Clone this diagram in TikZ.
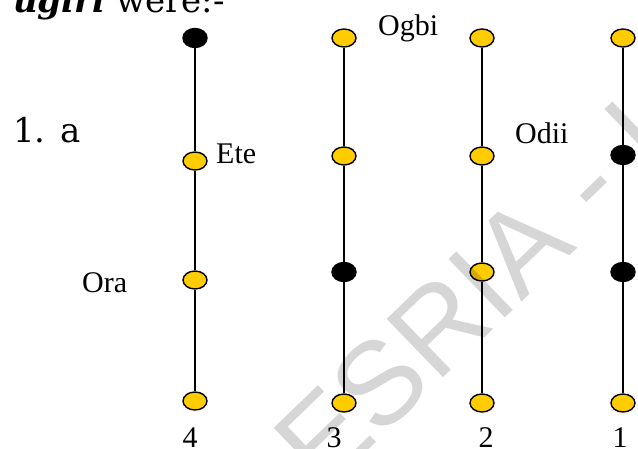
\documentclass[tikz,border=0pt]{standalone}
\usepackage{fontspec}
\setmainfont{Liberation Serif}
\newfontfamily\dvs{DejaVu Serif}
\newfontfamily\wmsans{Liberation Sans}
\usetikzlibrary{shapes.geometric}
\definecolor{dotyellow}{RGB}{255,204,0}
\tikzset{
  ydot/.style={ellipse, draw=black, line width=1.4pt, fill=dotyellow, minimum width=24pt, minimum height=18pt, inner sep=0pt},
  bdot/.style={ellipse, draw=black, line width=1.4pt, fill=black, minimum width=24pt, minimum height=19pt, inner sep=0pt},
  stem/.style={line width=1.3pt, draw=black},
  lbl/.style={font=\fontsize{30}{32}\selectfont, anchor=base west, inner sep=0pt},
  num/.style={font=\fontsize{30}{32}\selectfont, anchor=base, inner sep=0pt},
  head/.style={font=\dvs\fontsize{34}{36}\selectfont, anchor=base west, inner sep=0pt},
  wmark/.style={font=\wmsans\fontsize{118}{120}\selectfont, text=black, text opacity=0.16, rotate=44, anchor=base west, inner sep=0pt}
}
\begin{document}
\begin{tikzpicture}[x=1pt,y=-1pt]
\useasboundingbox (0,0) rectangle (638,448);
% heading
\node[head] (hd) at (13,12) {\textbf{\textit{ugiri}} were:-};
\node[head] (item) at (13,142) {1. a};
% column 4
\node[bdot] (d4a) at (195,38) {};
\node[ydot] (d4b) at (195,161) {};
\node[ydot] (d4c) at (195,280) {};
\node[ydot] (d4d) at (195,401) {};
% column 3
\node[ydot] (d3a) at (344,38) {};
\node[ydot] (d3b) at (344,156) {};
\node[bdot] (d3c) at (344,272) {};
\node[ydot] (d3d) at (344,403) {};
% column 2
\node[ydot] (d2a) at (482,38) {};
\node[ydot] (d2b) at (482,156) {};
\node[ydot] (d2c) at (482,272) {};
\node[ydot] (d2d) at (482,403) {};
% column 1
\node[ydot] (d1a) at (623,38) {};
\node[bdot] (d1b) at (623,155) {};
\node[bdot] (d1c) at (623,272) {};
\node[ydot] (d1d) at (623,403) {};
% stems
\draw[stem] (d4a) -- (d4b) -- (d4c) -- (d4d);
\draw[stem] (d3a) -- (d3b) -- (d3c) -- (d3d);
\draw[stem] (d2a) -- (d2b) -- (d2c) -- (d2d);
\draw[stem] (d1a) -- (d1b) -- (d1c) -- (d1d);
% labels
\node[lbl] (ete) at (216,163) {Ete};
\node[lbl] (ora) at (82,292) {Ora};
\node[lbl] (ogbi) at (378,35) {Ogbi};
\node[lbl] (odii) at (515,143) {Odii};
\node[num] (n4) at (190,447) {4};
\node[num] (n3) at (334,447) {3};
\node[num] (n2) at (486,447) {2};
\node[num] (n1) at (620,447) {1};
% watermark
\begin{scope}
\clip (0,0) rectangle (638,448);
\node[wmark] (wm) at (323,494) {ESRIA - I};
\end{scope}
\end{tikzpicture}
\end{document}
